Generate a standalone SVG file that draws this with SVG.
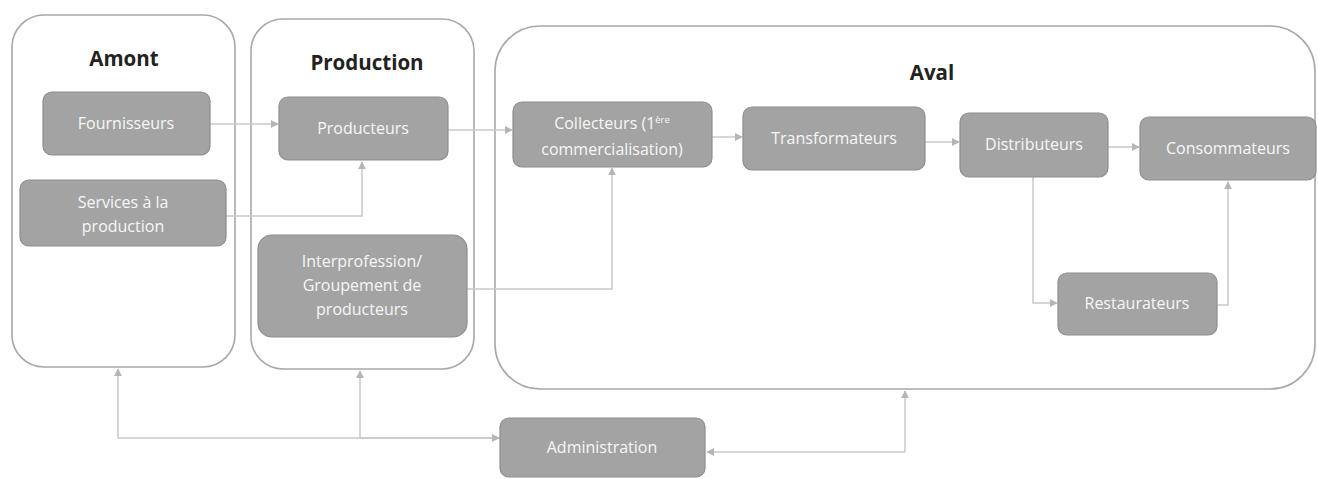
<svg xmlns="http://www.w3.org/2000/svg" width="1318" height="479" viewBox="0 0 1318 479">
<defs>
<style>
.cont{fill:#fff;stroke:#a8a8a8;stroke-width:1.6}
.box{fill:#a3a3a3;stroke:#8e8e8e;stroke-width:1.2}
.lbl{font-family:"Open Sans","Liberation Sans",sans-serif;font-size:16px;fill:#f7f7f7;text-anchor:middle}
.ttl{font-family:"Open Sans","Liberation Sans",sans-serif;font-size:20.5px;font-weight:bold;fill:#222;text-anchor:middle}
.con{fill:none;stroke:#c9c9c9;stroke-width:1.5}
</style>
<marker id="ah" viewBox="0 0 10 10" refX="9" refY="5" markerWidth="8" markerHeight="8" orient="auto" markerUnits="userSpaceOnUse">
<path d="M0,0 L10,5 L0,10 z" fill="#b5b5b5"/>
</marker>
</defs>
<rect width="1318" height="479" fill="#fff"/>

<g id="amont">
<rect class="cont" x="12" y="15" width="223" height="352" rx="32"/>
<text class="ttl" x="124" y="66">Amont</text>
</g>
<g id="production">
<rect class="cont" x="251" y="19" width="223" height="350" rx="32"/>
<text class="ttl" x="367" y="70">Production</text>
</g>
<g id="aval">
<rect class="cont" x="495" y="26" width="820" height="363" rx="45"/>
<text class="ttl" x="932" y="80">Aval</text>
</g>

<g id="connectors">
<path class="con" d="M210,124 H278" marker-end="url(#ah)"/>
<path class="con" d="M226,216 H362 V162" marker-end="url(#ah)"/>
<path class="con" d="M448,130 H512" marker-end="url(#ah)"/>
<path class="con" d="M467,289 H612 V168" marker-end="url(#ah)"/>
<path class="con" d="M712,137 H742" marker-end="url(#ah)"/>
<path class="con" d="M925,142 H959" marker-end="url(#ah)"/>
<path class="con" d="M1108,147 H1139" marker-end="url(#ah)"/>
<path class="con" d="M1033,177 V303 H1057" marker-end="url(#ah)"/>
<path class="con" d="M1217,305 H1228 V182" marker-end="url(#ah)"/>
<path class="con" d="M500,438 H118 V369" marker-end="url(#ah)"/>
<path class="con" d="M360,438 V371" marker-end="url(#ah)"/>
<path class="con" d="M360,438 H499" marker-end="url(#ah)"/>
<path class="con" d="M905,452 H707" marker-end="url(#ah)"/>
<path class="con" d="M905,452 V391" marker-end="url(#ah)"/>
</g>

<g id="fournisseurs">
<rect class="box" x="43" y="92" width="167" height="63" rx="9"/>
<text class="lbl" x="126" y="129">Fournisseurs</text>
</g>
<g id="services">
<rect class="box" x="20" y="180" width="206" height="66" rx="9"/>
<text class="lbl" x="123" y="208">Services à la</text>
<text class="lbl" x="123" y="232">production</text>
</g>
<g id="producteurs">
<rect class="box" x="279" y="97" width="169" height="63" rx="9"/>
<text class="lbl" x="363" y="134">Producteurs</text>
</g>
<g id="interprofession">
<rect class="box" x="258" y="235" width="209" height="102" rx="14"/>
<text class="lbl" x="362" y="267">Interprofession/</text>
<text class="lbl" x="362" y="291">Groupement de</text>
<text class="lbl" x="362" y="315">producteurs</text>
</g>
<g id="collecteurs">
<rect class="box" x="513" y="102" width="199" height="65" rx="9"/>
<text class="lbl" x="612" y="129">Collecteurs (1<tspan font-size="9.5" dy="-6">ère</tspan></text>
<text class="lbl" x="612" y="155">commercialisation)</text>
</g>
<g id="transformateurs">
<rect class="box" x="743" y="107" width="182" height="63" rx="9"/>
<text class="lbl" x="834" y="144">Transformateurs</text>
</g>
<g id="distributeurs">
<rect class="box" x="960" y="113" width="148" height="64" rx="9"/>
<text class="lbl" x="1034" y="150">Distributeurs</text>
</g>
<g id="consommateurs">
<rect class="box" x="1140" y="117" width="176" height="63" rx="9"/>
<text class="lbl" x="1228" y="154">Consommateurs</text>
</g>
<g id="restaurateurs">
<rect class="box" x="1058" y="273" width="159" height="62" rx="9"/>
<text class="lbl" x="1137" y="309">Restaurateurs</text>
</g>
<g id="administration">
<rect class="box" x="500" y="418" width="205" height="59" rx="9"/>
<text class="lbl" x="602" y="453">Administration</text>
</g>
</svg>
